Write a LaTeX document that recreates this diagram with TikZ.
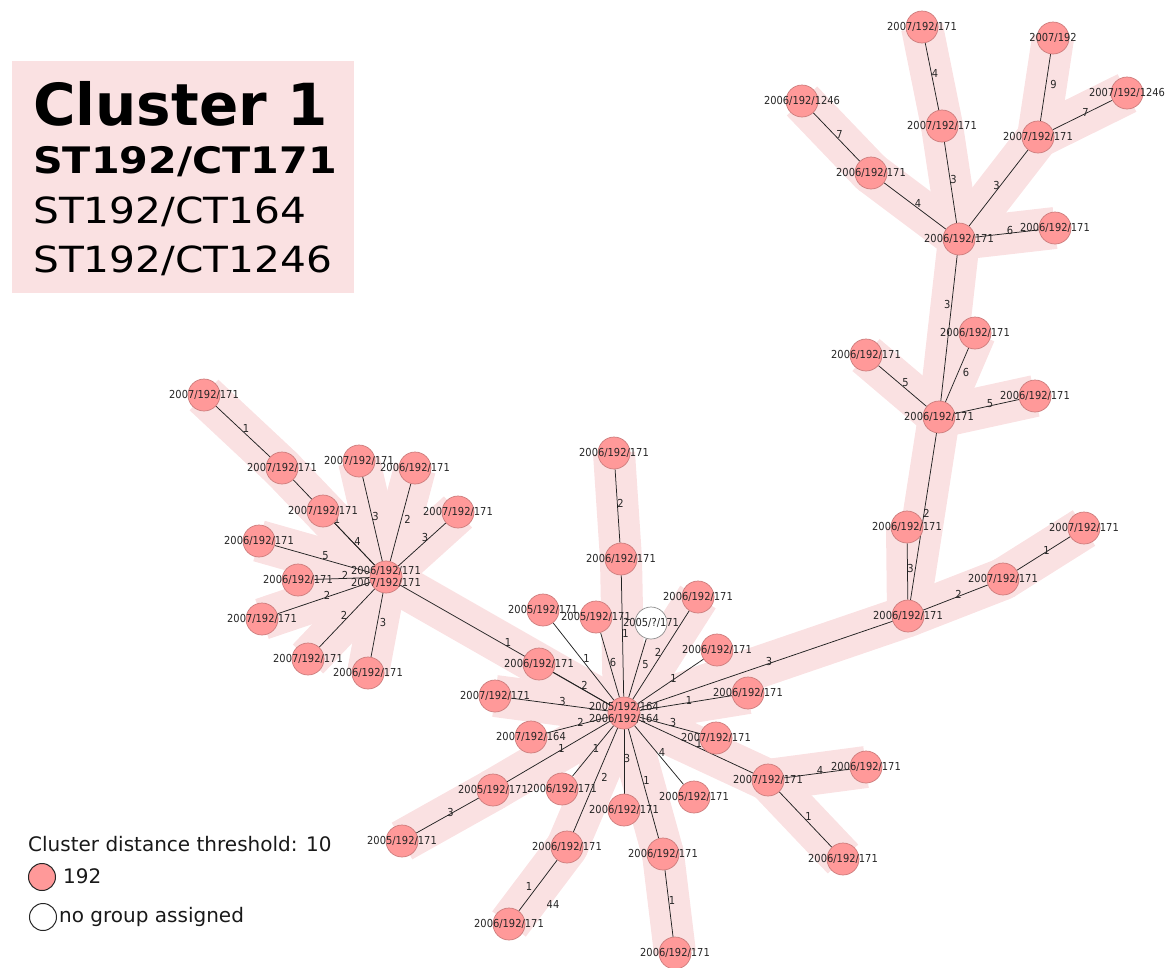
\documentclass[tikz,border=0pt]{standalone}
\usepackage{fontspec}
\setmainfont{DejaVu Sans}
\newfontfamily\widefont[FakeStretch=1.13]{DejaVu Sans}
\newfontfamily\tagfont[FakeStretch=0.9]{DejaVu Sans}

\pgfdeclarelayer{bands}
\pgfdeclarelayer{links}
\pgfsetlayers{bands,links,main}

\definecolor{bandpink}{HTML}{FAE1E2}
\definecolor{boxpink}{HTML}{FAE1E2}
\definecolor{nodepink}{HTML}{FF9999}
\definecolor{noderim}{HTML}{CC7C7C}
\definecolor{linkgray}{HTML}{222222}

\tikzset{
  iso/.style={circle, minimum size=32pt, inner sep=0pt, fill=nodepink, draw=noderim, line width=0.7pt},
  nogroup/.style={iso, fill=white, draw=black!45},
  tag/.style={font=\tagfont\fontsize{11}{12}\selectfont, text=black!85, align=center, inner sep=0pt},
  link/.style={draw=linkgray, line width=0.75pt},
  band/.style={draw=bandpink, line width=42pt, line cap=butt},
  joint/.style={fill=bandpink, draw=none},
  dist/.style={font=\tagfont\fontsize{11}{12}\selectfont, inner sep=0pt, xshift=3pt, yshift=3pt, text=black!85},
  title/.style={anchor=base west, inner sep=0pt},
  keytext/.style={anchor=base west, inner sep=0pt, font=\fontsize{20}{22}\selectfont, text=black!90},
  keydot/.style={circle, minimum size=27pt, inner sep=0pt, line width=1pt, draw=black!85},
}

% isolate node: circle plus its centred label
\newcommand\isonode[4][iso]{%
  \node[#1] (#2) at (#3) {};
  \node[tag] (#2t) at (#2) {#4};}
% link between two isolates with its distance
\newcommand\lnk[4][]{\draw[link] (#2) -- node[dist,#1] (#2#3d) {#4} (#3);}
% highlight band between two isolate centres
\newcommand\bnd[2]{\draw[band] (#1.center) -- (#2.center);}

\begin{document}
\begin{tikzpicture}[x=1pt,y=-1pt]
\useasboundingbox (0,0) rectangle (1174,967);

% ---------- title box ----------
\fill[boxpink] (12,61) rectangle (354,293);
\node[title, font=\fontsize{58}{58}\selectfont\bfseries] (t1) at (33,125) {Cluster 1};
\node[title, font=\widefont\fontsize{36.5}{37}\selectfont\bfseries] (t2) at (33,173) {ST192/CT171};
\node[title, font=\widefont\fontsize{36}{36}\selectfont] (t3) at (33,223) {ST192/CT164};
\node[title, font=\widefont\fontsize{36}{36}\selectfont] (t4) at (33,272) {ST192/CT1246};

% ---------- isolates ----------
\isonode{A1}{922,27}{2007/192/171}
\isonode{A2}{1053,38}{2007/192}
\isonode{A3}{1127,93}{2007/192/1246}
\isonode{A4}{802,101}{2006/192/1246}
\isonode{A5}{942,126}{2007/192/171}
\isonode{A6}{1038,137}{2007/192/171}
\isonode{A7}{871,173}{2006/192/171}
\isonode{A8}{959,239}{2006/192/171}
\isonode{A9}{1055,228}{2006/192/171}
\isonode{B1}{975,333}{2006/192/171}
\isonode{B2}{866,355}{2006/192/171}
\isonode{B3}{1035,396}{2006/192/171}
\isonode{B4}{939,417}{2006/192/171}
\isonode{C1}{907,527}{2006/192/171}
\isonode{C2}{908,616}{2006/192/171}
\isonode{C3}{1003,579}{2007/192/171}
\isonode{C4}{1084,528}{2007/192/171}
\isonode{D1}{698,597}{2006/192/171}
\isonode{D2}{717,650}{2006/192/171}
\isonode{D3}{748,693}{2006/192/171}
\isonode{D4}{716,738}{2007/192/171}
\isonode{D5}{768,780}{2007/192/171}
\isonode{D6}{866,767}{2006/192/171}
\isonode{D7}{843,859}{2006/192/171}
\isonode{H}{624,713}{2005/192/164\\2006/192/164}
\isonode{E0}{614,453}{2006/192/171}
\isonode{E1}{621,559}{2006/192/171}
\isonode{E2}{543,610}{2005/192/171}
\isonode{E3}{596,617}{2005/192/171}
\isonode[nogroup]{E4}{651,623}{2005/?/171}
\isonode{E7}{539,664}{2006/192/171}
\isonode{E8}{495,696}{2007/192/171}
\isonode{E9}{531,737}{2007/192/164}
\isonode{E10}{493,790}{2005/192/171}
\isonode{E11}{562,789}{2006/192/171}
\isonode{E12}{624,810}{2006/192/171}
\isonode{E13}{694,797}{2005/192/171}
\isonode{E14}{402,841}{2005/192/171}
\isonode{E15}{567,847}{2006/192/171}
\isonode{E16}{509,924}{2006/192/171}
\isonode{E17}{663,854}{2006/192/171}
\isonode{E18}{675,953}{2006/192/171}
\isonode{F}{386,577}{2006/192/171\\2007/192/171}
\isonode{G1}{204,395}{2007/192/171}
\isonode{G2}{282,468}{2007/192/171}
\isonode{G3}{323,511}{2007/192/171}
\isonode{G4}{359,461}{2007/192/171}
\isonode{G5}{415,468}{2006/192/171}
\isonode{G6}{458,512}{2007/192/171}
\isonode{G7}{259,541}{2006/192/171}
\isonode{G8}{298,580}{2006/192/171}
\isonode{G9}{262,619}{2007/192/171}
\isonode{G10}{308,659}{2007/192/171}
\isonode{G11}{368,673}{2006/192/171}
\node[tag] (stray) at (553,904) {44};

% ---------- highlight bands ----------
\begin{pgfonlayer}{bands}
  \bnd{A1}{A5}\bnd{A5}{A8}\bnd{A2}{A6}\bnd{A3}{A6}\bnd{A6}{A8}
  \bnd{A4}{A7}\bnd{A7}{A8}\bnd{A8}{A9}\bnd{A8}{B4}
  \bnd{B1}{B4}\bnd{B2}{B4}\bnd{B3}{B4}\bnd{B4}{C2}\bnd{C1}{C2}
  \bnd{C2}{C3}\bnd{C3}{C4}\bnd{H}{C2}
  \bnd{H}{D1}\bnd{H}{D3}\bnd{H}{D5}\bnd{D5}{D6}\bnd{D5}{D7}
  \bnd{H}{E1}\bnd{E0}{E1}\bnd{F}{H}\bnd{H}{E8}\bnd{H}{E10}\bnd{E10}{E14}
  \bnd{H}{E15}\bnd{E15}{E16}\bnd{H}{E17}\bnd{E17}{E18}
  \bnd{G1}{G2}\bnd{G2}{F}\bnd{G4}{F}\bnd{G5}{F}\bnd{G6}{F}\bnd{G7}{F}
  \bnd{G9}{F}\bnd{G10}{F}\bnd{G11}{F}
  \foreach \j in {A5,A6,A7,A8,B4,C2,C3,H,D5,E1,E10,E15,E17,G2,F}
    \fill[joint] (\j.center) circle (21pt);
\end{pgfonlayer}

% ---------- links ----------
\begin{pgfonlayer}{links}
  \lnk{A1}{A5}{4}
  \lnk[xshift=5pt]{A2}{A6}{9}
  \lnk{A3}{A6}{7}
  \lnk{A4}{A7}{7}
  \lnk{A7}{A8}{4}
  \lnk{A5}{A8}{3}
  \lnk[xshift=-5pt]{A6}{A8}{3}
  \lnk{A8}{A9}{6}
  \draw[link] (A8) -- node[dist, pos=0.36, xshift=-7pt] (A8B4d) {3} (B4);
  \lnk[xshift=6pt]{B1}{B4}{6}
  \lnk{B2}{B4}{5}
  \lnk{B3}{B4}{5}
  \lnk{B4}{C2}{2}
  \lnk{C1}{C2}{3}
  \lnk{C2}{C3}{2}
  \lnk{C3}{C4}{1}
  \lnk{H}{C2}{3}
  \lnk[xshift=-6pt]{H}{D1}{2}
  \lnk{H}{D2}{1}
  \lnk{H}{D3}{1}
  \lnk{H}{D4}{3}
  \lnk{H}{D5}{1}
  \lnk{D5}{D6}{4}
  \lnk{D5}{D7}{1}
  \lnk{E0}{E1}{2}
  \lnk{E1}{H}{1}
  \lnk{E2}{H}{1}
  \lnk{E3}{H}{6}
  \lnk[xshift=5pt]{E4}{H}{5}
  \lnk{F}{H}{1}
  \lnk{E7}{H}{2}
  \lnk{E8}{H}{3}
  \lnk{E9}{H}{2}
  \lnk{E10}{H}{1}
  \lnk{E11}{H}{1}
  \lnk[xshift=6pt]{E15}{H}{2}
  \lnk{E12}{H}{3}
  \lnk{E17}{H}{1}
  \lnk{E13}{H}{4}
  \lnk{E10}{E14}{3}
  \lnk[xshift=-12pt, yshift=-4pt]{E15}{E16}{1}
  \lnk{E17}{E18}{1}
  \lnk{G1}{G2}{1}
  \lnk{G2}{F}{1}
  \lnk{G3}{F}{4}
  \lnk{G4}{F}{3}
  \lnk[xshift=4pt]{G5}{F}{2}
  \lnk[yshift=4pt]{G6}{F}{3}
  \lnk{G7}{F}{5}
  \lnk{G8}{F}{2}
  \lnk{G9}{F}{2}
  \lnk[xshift=-6pt]{G10}{F}{2}
  \lnk[xshift=3pt]{G11}{F}{3}
\end{pgfonlayer}

% ---------- key ----------
\node[keytext] (keyhead) at (28,851) {Cluster distance threshold: 10};
\node[keydot, fill=nodepink] (key192) at (42,877) {};
\node[keytext] (key192t) at (63,883) {192};
\node[keydot, fill=white] (keynone) at (43,917) {};
\node[keytext] (keynonet) at (59,922) {no group assigned};
\end{tikzpicture}
\end{document}
